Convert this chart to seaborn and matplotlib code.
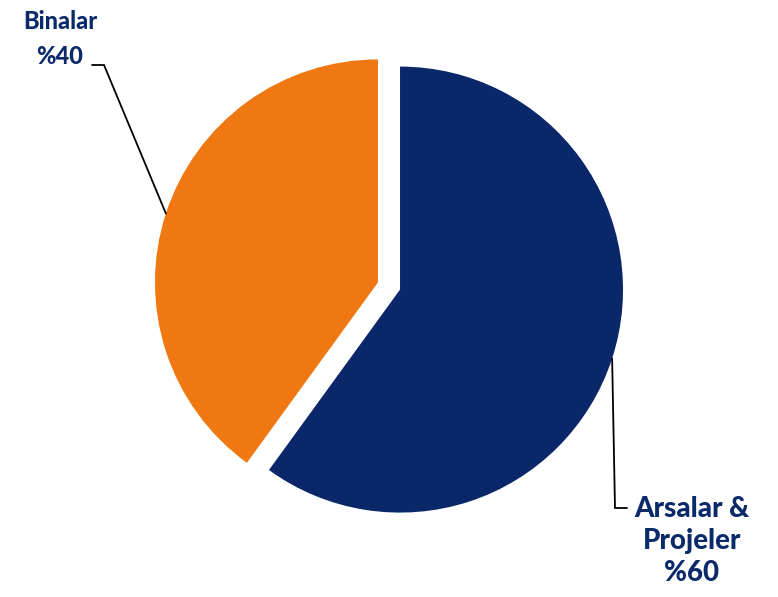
import numpy as np
import matplotlib
matplotlib.use("Agg")
import matplotlib.pyplot as plt
import seaborn as sns

# Portfolio split
categories = ["Arsalar &\nProjeler", "Binalar"]
shares = [60, 40]
slice_colors = ["#0A276A", "#F07812"]
text_color = "#0B2A6A"

sns.set_theme(style="white")
plt.rcParams["font.family"] = ["Lato", "DejaVu Sans"]

fig = plt.figure(figsize=(7.78, 5.97), dpi=100)
ax = fig.add_axes([0, 0, 1, 1])
ax.set_aspect("equal")

explode = [0.052, 0.052]
wedges, _ = ax.pie(
    shares,
    colors=sns.color_palette(slice_colors),
    startangle=90,
    counterclock=False,
    explode=explode,
    radius=1.0,
    wedgeprops=dict(linewidth=0),
)

ax.set_xlim(-389 / 223, (778 - 389) / 223)
ax.set_ylim(-(597 - 286) / 223, 286 / 223)
ax.axis("off")

# Leader line anchors: middle of each slice's arc
def arc_mid(w):
    ang = np.deg2rad((w.theta1 + w.theta2) / 2)
    cx, cy = w.center
    return cx + w.r * np.cos(ang), cy + w.r * np.sin(ang)

px = lambda x, y: ((x - 389) / 223, (286 - y) / 223)

# Binalar label (upper left)
bx, by = arc_mid(wedges[1])
k1 = px(104, 65)
k0 = px(92, 65)
ax.plot([bx, k1[0], k0[0]], [by, k1[1], k0[1]], color="black", lw=1.3,
        solid_joinstyle="miter")
tx, ty = px(60, 39)
ax.text(tx, ty, f"{categories[1]}\n%{shares[1]}", ha="center", va="center",
        fontsize=17, fontweight="black", color=text_color, linespacing=1.65)

# Arsalar & Projeler label (lower right)
ax_, ay_ = arc_mid(wedges[0])
k1 = px(615, 508)
k0 = px(627, 508)
ax.plot([ax_, k1[0], k0[0]], [ay_, k1[1], k0[1]], color="black", lw=1.3,
        solid_joinstyle="miter")
tx, ty = px(692, 541)
ax.text(tx, ty, f"{categories[0]}\n%{shares[0]}", ha="center", va="center",
        fontsize=20, fontweight="black", color=text_color, linespacing=1.3)

fig.savefig("out.png", dpi=100)
